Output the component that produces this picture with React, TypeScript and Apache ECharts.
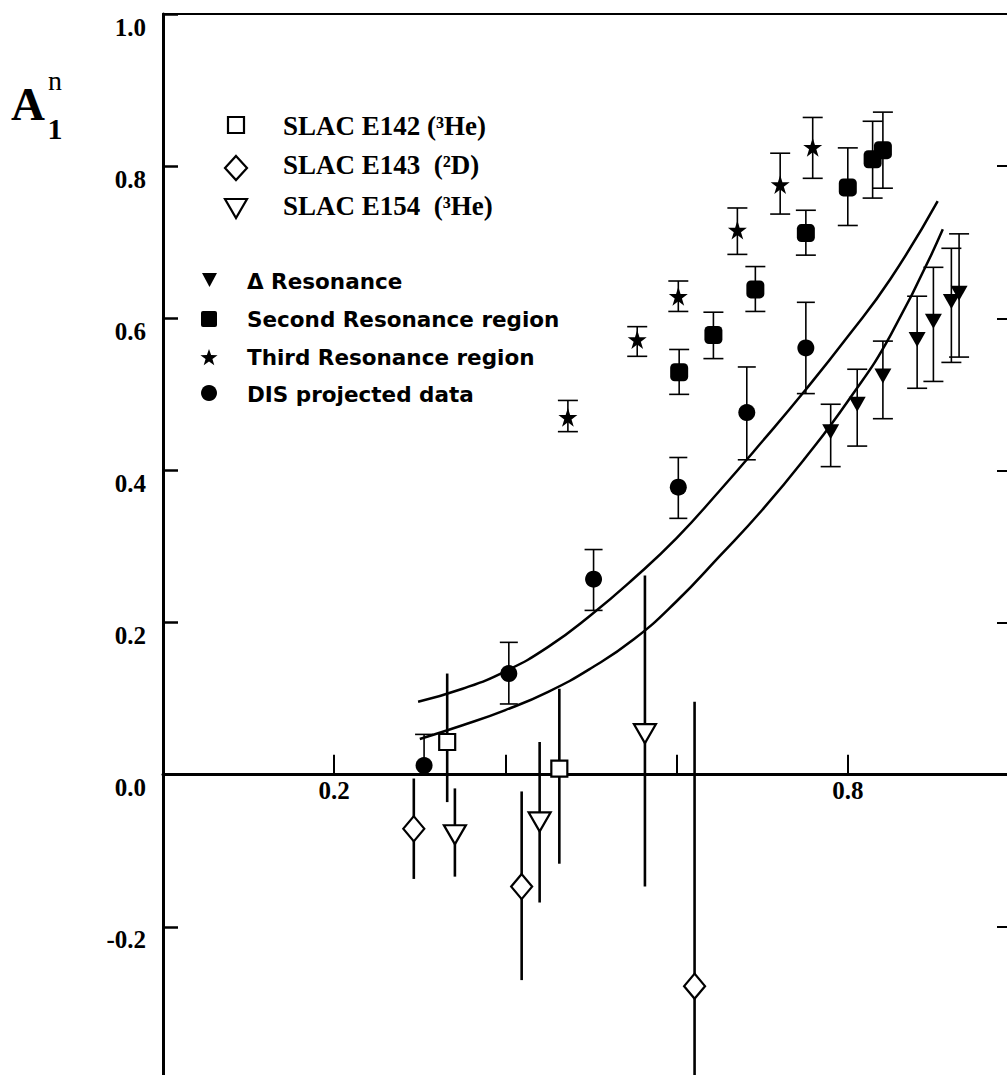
import React, { useEffect, useRef } from "react";
import * as echarts from "echarts";

// ---- data ----
const e142X = [0.332, 0.463];
const e142Y = [0.043, 0.008];
const e142Lo = [-0.036, -0.117];
const e142Hi = [0.133, 0.113];

const e143X = [0.293, 0.419, 0.621];
const e143Y = [-0.071, -0.147, -0.278];
const e143Lo = [-0.137, -0.27, -0.65];
const e143Hi = [-0.005, -0.022, 0.096];

const e154X = [0.341, 0.44, 0.563];
const e154Y = [-0.079, -0.062, 0.054];
const e154Lo = [-0.134, -0.168, -0.147];
const e154Hi = [-0.018, 0.043, 0.262];

const resX = [0.78, 0.811, 0.841, 0.881, 0.9, 0.921, 0.93];
const resY = [0.451, 0.487, 0.524, 0.572, 0.596, 0.622, 0.633];
const resLo = [0.405, 0.432, 0.468, 0.508, 0.517, 0.542, 0.549];
const resHi = [0.487, 0.533, 0.57, 0.629, 0.667, 0.692, 0.711];

const secX = [0.603, 0.643, 0.692, 0.751, 0.8, 0.829, 0.841];
const secY = [0.529, 0.578, 0.638, 0.712, 0.772, 0.809, 0.821];
const secLo = [0.5, 0.547, 0.609, 0.683, 0.722, 0.758, 0.771];
const secHi = [0.559, 0.608, 0.668, 0.742, 0.824, 0.859, 0.871];

const thirdX = [0.473, 0.554, 0.602, 0.671, 0.721, 0.759];
const thirdY = [0.47, 0.572, 0.629, 0.716, 0.776, 0.825];
const thirdLo = [0.451, 0.55, 0.609, 0.684, 0.737, 0.784];
const thirdHi = [0.492, 0.589, 0.649, 0.745, 0.817, 0.864];

const disX = [0.305, 0.404, 0.503, 0.602, 0.682, 0.751];
const disY = [0.012, 0.133, 0.257, 0.378, 0.476, 0.561];
const disLo = [0.0, 0.093, 0.216, 0.337, 0.414, 0.501];
const disHi = [0.053, 0.174, 0.296, 0.417, 0.536, 0.621];

const upperX = [0.298, 0.35, 0.4, 0.45, 0.5, 0.55, 0.6, 0.65, 0.7, 0.75, 0.8, 0.85, 0.905];
const upperY = [0.096, 0.113, 0.136, 0.168, 0.21, 0.258, 0.311, 0.373, 0.438, 0.505, 0.576, 0.652, 0.754];
const lowerX = [0.3, 0.35, 0.4, 0.45, 0.5, 0.55, 0.6, 0.65, 0.7, 0.75, 0.8, 0.85, 0.911];
const lowerY = [0.047, 0.065, 0.085, 0.109, 0.14, 0.178, 0.228, 0.287, 0.348, 0.416, 0.491, 0.578, 0.717];

const xLabelValues = [0.2, 0.8];

// ---- styling helpers ----
const SERIF = '"Liberation Serif", "Times New Roman", serif';
const SANS = '"DejaVu Sans", "Liberation Sans", Arial, sans-serif';
const DOWN_TRI = "path://M0,0 L20,0 L10,17 Z";
const STAR =
  "path://M10,0 L12.245,6.91 L19.51,6.91 L13.633,11.18 L15.88,18.09 L10,13.82 L4.12,18.09 L6.367,11.18 L0.49,6.91 L7.755,6.91 Z";

const pairs = (xs: number[], ys: number[]) => xs.map((x, i) => [x, ys[i]]);

function errorSeries(xs: number[], lo: number[], hi: number[], cap: number, width: number) {
  return {
    type: "custom",
    silent: true,
    z: 2,
    data: xs.map((x, i) => [x, lo[i], hi[i]]),
    encode: { x: 0, y: [1, 2] },
    renderItem: (_p: any, api: any) => {
      const x = api.value(0);
      const top = api.coord([x, api.value(2)]);
      const bot = api.coord([x, api.value(1)]);
      const style = { stroke: "#000", lineWidth: width };
      const children: any[] = [
        { type: "line", shape: { x1: top[0], y1: top[1], x2: bot[0], y2: bot[1] }, style },
      ];
      if (cap > 0) {
        children.push({
          type: "line",
          shape: { x1: top[0] - cap / 2, y1: top[1], x2: top[0] + cap / 2, y2: top[1] },
          style,
        });
        children.push({
          type: "line",
          shape: { x1: bot[0] - cap / 2, y1: bot[1], x2: bot[0] + cap / 2, y2: bot[1] },
          style,
        });
      }
      return { type: "group", children };
    },
  };
}

const openStyle = { color: "#fff", borderColor: "#000", borderWidth: 2.2, opacity: 1 };
const fillStyle = { color: "#000", opacity: 1 };

function starPoints(cx: number, cy: number, R: number) {
  const pts: number[][] = [];
  for (let k = 0; k < 10; k++) {
    const r = k % 2 === 0 ? R : R * 0.4;
    const a = (-90 + k * 36) * (Math.PI / 180);
    pts.push([cx + r * Math.cos(a), cy + r * Math.sin(a)]);
  }
  return pts;
}

function txt(x: number, y: number, text: string, font: string, align = "left") {
  return {
    type: "text",
    x,
    y,
    z: 100,
    style: {
      text,
      font,
      fill: "#000",
      textAlign: align,
      align,
      textVerticalAlign: "middle",
      verticalAlign: "middle",
    },
  };
}

export default function App() {
  const ref = useRef<HTMLDivElement>(null);
  useEffect(() => {
    if (!ref.current) return;
    const chart = echarts.init(ref.current, null, { renderer: "svg" });
    const g1Font = `bold 27px ${SERIF}`;
    const g2Font = `bold 21.5px ${SANS}`;
    const tickFont = `bold 25px ${SERIF}`;
    const option: any = {
      animation: false,
      backgroundColor: "#fff",
      grid: {
        left: 163,
        right: -12,
        top: 14,
        bottom: -4,
        containLabel: false,
        outerBoundsMode: "none",
      },
      xAxis: [
        {
          type: "value",
          min: 0,
          max: 1,
          interval: 0.2,
          position: "bottom",
          axisLine: { onZero: true, onZeroAxisIndex: 0, lineStyle: { color: "#000", width: 3 } },
          axisTick: { inside: true, length: 20, lineStyle: { color: "#000", width: 2 } },
          splitLine: { show: false },
          axisLabel: { show: false },
        },
        {
          type: "value",
          min: 0,
          max: 1,
          position: "top",
          axisLine: { onZero: false, lineStyle: { color: "#000", width: 2 } },
          axisTick: { show: false },
          axisLabel: { show: false },
          splitLine: { show: false },
        },
      ],
      yAxis: [
        {
          type: "value",
          min: -0.4,
          max: 1.0,
          interval: 0.2,
          position: "left",
          axisLine: { onZero: false, lineStyle: { color: "#000", width: 3 } },
          axisTick: { inside: true, length: 15, lineStyle: { color: "#000", width: 2.5 } },
          splitLine: { show: false },
          axisLabel: {
            margin: 17,
            verticalAlign: "top",
            lineHeight: 26,
            color: "#000",
            fontFamily: SERIF,
            fontWeight: "bold",
            fontSize: 25,
            formatter: (v: number) => (v < -0.3 ? "" : v.toFixed(1)),
          },
        },
        {
          type: "value",
          min: -0.4,
          max: 1.0,
          interval: 0.2,
          position: "right",
          axisLine: { onZero: false, lineStyle: { color: "#000", width: 3 } },
          axisTick: { inside: true, length: 22, lineStyle: { color: "#000", width: 2 } },
          axisLabel: { show: false },
          splitLine: { show: false },
        },
      ],
      series: [
        {
          type: "line",
          name: "upper",
          data: pairs(upperX, upperY),
          smooth: 0.5,
          showSymbol: false,
          symbol: "none",
          lineStyle: { color: "#000", width: 2.5 },
          z: 1,
        },
        {
          type: "line",
          name: "lower",
          data: pairs(lowerX, lowerY),
          smooth: 0.5,
          showSymbol: false,
          symbol: "none",
          lineStyle: { color: "#000", width: 2.5 },
          z: 1,
        },
        {
          // x tick labels drawn on the zero line
          type: "custom",
          silent: true,
          z: 3,
          data: xLabelValues.map((v) => [v, 0]),
          encode: { x: 0, y: 1 },
          renderItem: (_p: any, api: any) => {
            const c = api.coord([api.value(0), api.value(1)]);
            return {
              type: "text",
              x: c[0],
              y: c[1] + 3,
              style: {
                text: Number(api.value(0)).toFixed(1),
                font: tickFont,
                fill: "#000",
                textAlign: "center",
                align: "center",
                textVerticalAlign: "top",
                verticalAlign: "top",
              },
            };
          },
        },
        errorSeries(e142X, e142Lo, e142Hi, 0, 2.6),
        errorSeries(e143X, e143Lo, e143Hi, 0, 2.6),
        errorSeries(e154X, e154Lo, e154Hi, 0, 2.6),
        errorSeries(resX, resLo, resHi, 20, 1.6),
        errorSeries(secX, secLo, secHi, 20, 1.6),
        errorSeries(thirdX, thirdLo, thirdHi, 20, 1.6),
        errorSeries(disX, disLo, disHi, 18, 1.6),
        {
          type: "scatter",
          name: "SLAC E142 (³He)",
          data: pairs(e142X, e142Y),
          symbol: "rect",
          symbolSize: 16,
          itemStyle: openStyle,
          z: 5,
        },
        {
          type: "scatter",
          name: "SLAC E143 (²D)",
          data: pairs(e143X, e143Y),
          symbol: "diamond",
          symbolSize: [21, 25],
          itemStyle: openStyle,
          z: 5,
        },
        {
          type: "scatter",
          name: "SLAC E154 (³He)",
          data: pairs(e154X, e154Y),
          symbol: DOWN_TRI,
          symbolSize: [22, 19],
          itemStyle: openStyle,
          z: 5,
        },
        {
          type: "scatter",
          name: "Δ Resonance",
          data: pairs(resX, resY),
          symbol: DOWN_TRI,
          symbolSize: [17, 15],
          itemStyle: fillStyle,
          z: 5,
        },
        {
          type: "scatter",
          name: "Second Resonance region",
          data: pairs(secX, secY),
          symbol: "roundRect",
          symbolSize: 18,
          itemStyle: fillStyle,
          z: 5,
        },
        {
          type: "scatter",
          name: "Third Resonance region",
          data: pairs(thirdX, thirdY),
          symbol: STAR,
          symbolSize: 19,
          itemStyle: fillStyle,
          z: 5,
        },
        {
          type: "scatter",
          name: "DIS projected data",
          data: pairs(disX, disY),
          symbol: "circle",
          symbolSize: 17,
          itemStyle: fillStyle,
          z: 5,
        },
      ],
      graphic: [
        // axis title A_1^n
        txt(28, 104, "A", `bold 47px ${SERIF}`, "center"),
        txt(55, 80, "n", `28px ${SERIF}`, "center"),
        txt(55, 128, "1", `bold 30px ${SERIF}`, "center"),
        // legend group 1
        {
          type: "rect",
          z: 100,
          shape: { x: 228, y: 117, width: 16, height: 16 },
          style: { fill: "#fff", stroke: "#000", lineWidth: 2.2 },
        },
        {
          type: "polygon",
          z: 100,
          shape: { points: [[236, 156], [247, 168], [236, 180], [225, 168]] },
          style: { fill: "#fff", stroke: "#000", lineWidth: 2.2 },
        },
        {
          type: "polygon",
          z: 100,
          shape: { points: [[225, 199], [247, 199], [236, 218]] },
          style: { fill: "#fff", stroke: "#000", lineWidth: 2.2 },
        },
        txt(283, 126, "SLAC E142 (³He)", g1Font),
        txt(283, 165, "SLAC E143  (²D)", g1Font),
        txt(283, 206, "SLAC E154  (³He)", g1Font),
        // legend group 2
        {
          type: "polygon",
          z: 100,
          shape: { points: [[202, 273], [217, 273], [209.5, 287]] },
          style: { fill: "#000" },
        },
        {
          type: "rect",
          z: 100,
          shape: { x: 201, y: 311, width: 16, height: 16, r: 2 },
          style: { fill: "#000" },
        },
        {
          type: "polygon",
          z: 100,
          shape: { points: starPoints(209, 358, 9) },
          style: { fill: "#000" },
        },
        {
          type: "circle",
          z: 100,
          shape: { cx: 209, cy: 393, r: 8 },
          style: { fill: "#000" },
        },
        txt(247, 281, "Δ Resonance", g2Font),
        txt(247, 319, "Second Resonance region", g2Font),
        txt(247, 357, "Third Resonance region", g2Font),
        txt(247, 394, "DIS projected data", g2Font),
      ],
    };
    chart.setOption(option);
    return () => chart.dispose();
  }, []);
  return (
    <div
      ref={ref}
      style={{ position: "fixed", left: 0, top: 0, width: 1007, height: 1075, background: "#fff" }}
    />
  );
}
